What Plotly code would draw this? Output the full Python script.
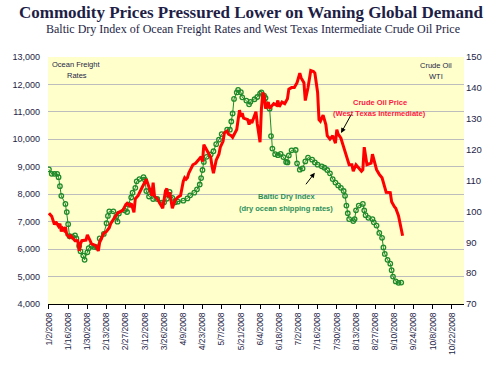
import plotly.graph_objects as go

# ---------------- data ----------------
bdi_dates = [
    "2008-01-02", "2008-01-04", "2008-01-06", "2008-01-08", "2008-01-09", "2008-01-10", "2008-01-11",
    "2008-01-14", "2008-01-15", "2008-01-16", "2008-01-17", "2008-01-19", "2008-01-21", "2008-01-22",
    "2008-01-24", "2008-01-25", "2008-01-27", "2008-01-28", "2008-01-30", "2008-01-31", "2008-02-02",
    "2008-02-04", "2008-02-06", "2008-02-08", "2008-02-11", "2008-02-13", "2008-02-14", "2008-02-15",
    "2008-02-18", "2008-02-20", "2008-02-21", "2008-02-22", "2008-02-26", "2008-02-28", "2008-02-29",
    "2008-03-02", "2008-03-03", "2008-03-05", "2008-03-06", "2008-03-08", "2008-03-11", "2008-03-12",
    "2008-03-13", "2008-03-15", "2008-03-18", "2008-03-21", "2008-03-24", "2008-03-26", "2008-03-28",
    "2008-03-30", "2008-04-01", "2008-04-03", "2008-04-05", "2008-04-09", "2008-04-12", "2008-04-14",
    "2008-04-17", "2008-04-19", "2008-04-21", "2008-04-22", "2008-04-23", "2008-04-24", "2008-04-26",
    "2008-04-29", "2008-05-01", "2008-05-03", "2008-05-05", "2008-05-07", "2008-05-11", "2008-05-13",
    "2008-05-14", "2008-05-15", "2008-05-16", "2008-05-18", "2008-05-19", "2008-05-21", "2008-05-22",
    "2008-05-25", "2008-05-27", "2008-05-28", "2008-05-31", "2008-06-02", "2008-06-04", "2008-06-05",
    "2008-06-07", "2008-06-08", "2008-06-11", "2008-06-12", "2008-06-13", "2008-06-15", "2008-06-17",
    "2008-06-19", "2008-06-21", "2008-06-23", "2008-06-24", "2008-06-25", "2008-06-27", "2008-06-30",
    "2008-07-01", "2008-07-03", "2008-07-05", "2008-07-07", "2008-07-09", "2008-07-12", "2008-07-14",
    "2008-07-16", "2008-07-19", "2008-07-21", "2008-07-23", "2008-07-25", "2008-07-27", "2008-07-29",
    "2008-07-31", "2008-08-02", "2008-08-04", "2008-08-05", "2008-08-06", "2008-08-07", "2008-08-08",
    "2008-08-11", "2008-08-12", "2008-08-13", "2008-08-15", "2008-08-18", "2008-08-19", "2008-08-20",
    "2008-08-22", "2008-08-25", "2008-08-26", "2008-08-28", "2008-08-30", "2008-09-01", "2008-09-02",
    "2008-09-03", "2008-09-05", "2008-09-07", "2008-09-08", "2008-09-09", "2008-09-11", "2008-09-13",
    "2008-09-15",
]
bdi_values = [
    8905, 8742, 8742, 8742, 8622, 8294, 7941,
    7648, 7351, 6907, 6469, 6458, 6504, 6388,
    6116, 5918, 5763, 5611, 5883, 6035, 6116,
    6081, 6060, 6388, 6554, 6942, 7210, 7376,
    7376, 7175, 6999, 7295, 7412, 7352, 7623,
    7881, 8058, 8234, 8470, 8553, 8622, 8531,
    8118, 7917, 7825, 7825, 7694, 7705, 7835,
    8082, 7870, 7705, 7729, 7765, 7846, 7958,
    8058, 8178, 8354, 8587, 8883, 9177, 9363,
    9448, 9565, 9823, 9989, 10190, 10352, 10352,
    10649, 10942, 11471, 11708, 11799, 11718, 11531,
    11411, 11277, 11365, 11460, 11542, 11665, 11708,
    11588, 11506, 11118, 10119, 9664, 9459, 9424,
    9470, 9353, 9177, 9159, 9413, 9600, 9611,
    9124, 8894, 8940, 9194, 9335, 9258, 9159,
    9078, 9018, 8965, 8883, 8763, 8552, 8425,
    8319, 8234, 8118, 7941, 7588, 7306, 7094,
    7023, 7094, 7412, 7588, 7648, 7412, 7235,
    7140, 7094, 6977, 6857, 6589, 6413, 6060,
    5823, 5611, 5470, 5233, 5000, 4824, 4770,
    4780,
]

oil_dates = [
    "2008-01-02", "2008-01-04", "2008-01-06", "2008-01-07", "2008-01-09", "2008-01-10", "2008-01-11",
    "2008-01-12", "2008-01-13", "2008-01-14", "2008-01-15", "2008-01-17", "2008-01-18", "2008-01-20",
    "2008-01-21", "2008-01-23", "2008-01-24", "2008-01-25", "2008-01-26", "2008-01-29", "2008-01-30",
    "2008-02-01", "2008-02-02", "2008-02-05", "2008-02-07", "2008-02-08", "2008-02-10", "2008-02-11",
    "2008-02-13", "2008-02-15", "2008-02-16", "2008-02-18", "2008-02-20", "2008-02-21", "2008-02-23",
    "2008-02-25", "2008-02-27", "2008-02-28", "2008-03-01", "2008-03-02", "2008-03-04", "2008-03-05",
    "2008-03-07", "2008-03-08", "2008-03-10", "2008-03-12", "2008-03-13", "2008-03-15", "2008-03-16",
    "2008-03-17", "2008-03-18", "2008-03-19", "2008-03-21", "2008-03-23", "2008-03-25", "2008-03-27",
    "2008-03-28", "2008-03-29", "2008-03-30", "2008-04-01", "2008-04-03", "2008-04-05", "2008-04-07",
    "2008-04-09", "2008-04-10", "2008-04-11", "2008-04-12", "2008-04-13", "2008-04-15", "2008-04-16",
    "2008-04-18", "2008-04-20", "2008-04-22", "2008-04-23", "2008-04-24", "2008-04-25", "2008-04-27",
    "2008-04-29", "2008-04-30", "2008-05-01", "2008-05-02", "2008-05-03", "2008-05-05", "2008-05-06",
    "2008-05-08", "2008-05-09", "2008-05-11", "2008-05-12", "2008-05-14", "2008-05-15", "2008-05-18",
    "2008-05-19", "2008-05-20", "2008-05-21", "2008-05-22", "2008-05-23", "2008-05-26", "2008-05-27",
    "2008-05-28", "2008-05-29", "2008-05-31", "2008-06-01", "2008-06-02", "2008-06-03", "2008-06-04",
    "2008-06-05", "2008-06-06", "2008-06-07", "2008-06-08", "2008-06-10", "2008-06-11", "2008-06-13",
    "2008-06-14", "2008-06-16", "2008-06-17", "2008-06-18", "2008-06-20", "2008-06-22", "2008-06-24",
    "2008-06-25", "2008-06-27", "2008-06-29", "2008-07-01", "2008-07-03", "2008-07-04", "2008-07-06",
    "2008-07-07", "2008-07-09", "2008-07-11", "2008-07-13", "2008-07-14", "2008-07-16", "2008-07-17",
    "2008-07-18", "2008-07-20", "2008-07-22", "2008-07-23", "2008-07-25", "2008-07-27", "2008-07-29",
    "2008-07-30", "2008-07-31", "2008-08-02", "2008-08-04", "2008-08-05", "2008-08-07", "2008-08-08",
    "2008-08-10", "2008-08-11", "2008-08-13", "2008-08-15", "2008-08-17", "2008-08-18", "2008-08-19",
    "2008-08-21", "2008-08-24", "2008-08-25", "2008-08-27", "2008-08-28", "2008-08-30", "2008-09-01",
    "2008-09-03", "2008-09-04", "2008-09-07", "2008-09-08", "2008-09-10", "2008-09-11", "2008-09-13",
    "2008-09-14", "2008-09-15", "2008-09-16",
]
oil_values = [
    99.4, 98.4, 95.7, 96.6, 95.2, 96.0, 93.5,
    94.5, 93.9, 94.9, 92.4, 91.6, 92.1, 91.0,
    90.5, 90.5, 87.2, 89.5, 90.5, 90.7, 92.4,
    90.5, 89.5, 89.0, 87.2, 90.0, 91.6, 92.9,
    93.5, 94.7, 96.0, 97.3, 98.9, 99.4, 99.9,
    100.4, 102.2, 102.6, 101.8, 102.6, 99.7, 104.1,
    105.1, 106.2, 107.8, 109.5, 110.4, 107.8, 106.2,
    105.1, 109.3, 104.9, 104.1, 102.5, 101.0, 106.7,
    107.4, 104.6, 106.2, 101.0, 103.6, 104.6, 105.1,
    109.8, 110.9, 110.4, 110.9, 112.4, 114.5, 115.1,
    115.6, 116.6, 117.7, 116.1, 121.6, 120.8, 118.9,
    117.5, 114.5, 112.4, 114.5, 116.6, 118.5, 120.8,
    122.7, 125.5, 126.0, 125.0, 124.5, 124.0, 126.5,
    129.0, 132.8, 130.7, 131.8, 130.2, 129.7, 128.1,
    129.7, 128.6, 131.2, 132.3, 128.3, 124.5, 122.4,
    133.3, 138.5, 137.5, 133.3, 135.4, 133.3, 134.4,
    134.9, 134.4, 135.9, 133.9, 135.4, 134.9, 136.5,
    139.6, 140.1, 140.1, 141.7, 144.8, 143.2, 141.7,
    135.9, 140.1, 145.6, 145.3, 144.8, 138.5, 129.7,
    129.2, 131.2, 128.1, 124.5, 123.4, 124.5, 122.1,
    126.5, 125.0, 123.7, 120.8, 119.2, 116.0, 115.1,
    115.1, 113.0, 115.1, 114.0, 113.0, 113.5, 120.8,
    115.1, 115.6, 118.5, 115.0, 113.5, 112.0, 110.9,
    107.8, 106.2, 106.1, 103.1, 101.5, 101.0, 98.6,
    96.3, 94.7, 92.1,
]

x_tick_dates = [
    "2008-01-02", "2008-01-16", "2008-01-30", "2008-02-13", "2008-02-27", "2008-03-12",
    "2008-03-26", "2008-04-09", "2008-04-23", "2008-05-07", "2008-05-21", "2008-06-04",
    "2008-06-18", "2008-07-02", "2008-07-16", "2008-07-30", "2008-08-13", "2008-08-27",
    "2008-09-10", "2008-09-24", "2008-10-08", "2008-10-22",
]
x_tick_labels = [
    "1/2/2008", "1/16/2008", "1/30/2008", "2/13/2008", "2/27/2008", "3/12/2008",
    "3/26/2008", "4/9/2008", "4/23/2008", "5/7/2008", "5/21/2008", "6/4/2008",
    "6/18/2008", "7/2/2008", "7/16/2008", "7/30/2008", "8/13/2008", "8/27/2008",
    "9/10/2008", "9/24/2008", "10/8/2008", "10/22/2008",
]

# ---------------- layout helpers ----------------
W, H = 494, 367
L, R, T, B = 38, 466, 57, 312
BG = "#FFFFCC"
NAVY = "#1E1E46"
SANS = "Liberation Sans"
SERIF = "Liberation Serif"


def px(x):
    return (x - L) / (R - L)


def py(y):
    return (B - y) / (B - T)


fig = go.Figure()

fig.add_trace(go.Scatter(
    x=bdi_dates, y=bdi_values, mode="lines+markers", yaxis="y",
    line=dict(color="#1F8A2A", width=1),
    marker=dict(symbol="circle-open", size=4.5, color="#1F8A2A", line=dict(width=1.3, color="#1F8A2A")),
    showlegend=False, name="Baltic Dry Index",
))
fig.add_trace(go.Scatter(
    x=oil_dates, y=oil_values, mode="lines", yaxis="y2",
    line=dict(color="#FF0000", width=3),
    showlegend=False, name="WTI",
))

annotations = [
    dict(text="<b>Commodity Prices Pressured Lower on Waning Global Demand</b>",
         x=px(247), y=py(11), font=dict(family=SERIF, size=17, color=NAVY)),
    dict(text="Baltic Dry Index of Ocean Freight Rates and West Texas Intermediate Crude Oil Price",
         x=px(249), y=py(28), font=dict(family=SERIF, size=12, color=NAVY)),
    dict(text="Ocean Freight", x=px(67), y=py(64.5), font=dict(family=SANS, size=7.5, color=NAVY)),
    dict(text="Rates", x=px(67.5), y=py(76), font=dict(family=SANS, size=7.5, color=NAVY)),
    dict(text="Crude Oil", x=px(437), y=py(66), font=dict(family=SANS, size=7.5, color=NAVY)),
    dict(text="WTI", x=px(437), y=py(77), font=dict(family=SANS, size=7.5, color=NAVY)),
    dict(text="<b>Crude Oil Price</b>", x=px(380), y=py(103.5), font=dict(family=SANS, size=7.5, color="#FF1744")),
    dict(text="<b>(West Texas Intermediate)</b>", x=px(379), y=py(115), font=dict(family=SANS, size=7.5, color="#FF1744")),
    dict(text="<b>Baltic Dry Index</b>", x=px(284), y=py(201.5), font=dict(family=SANS, size=7.5, color="#2A8F5A")),
    dict(text="<b>(dry ocean shipping rates)</b>", x=px(283), y=py(213), font=dict(family=SANS, size=7.5, color="#2A8F5A")),
]
for a in annotations:
    a.update(xref="paper", yref="paper", showarrow=False, xanchor="center", yanchor="middle")

# arrows
annotations.append(dict(x=px(339.5), y=py(135.5), xref="paper", yref="paper", text="",
                        showarrow=True, ax=11, ay=-20, arrowhead=2, arrowsize=1, arrowwidth=1,
                        arrowcolor="black"))
annotations.append(dict(x=px(312.5), y=py(176.5), xref="paper", yref="paper", text="",
                        showarrow=True, ax=-10, ay=13, arrowhead=2, arrowsize=1, arrowwidth=1,
                        arrowcolor="black"))

shapes = [
    dict(type="rect", xref="paper", yref="paper", layer="between",
         x0=px(233), x1=px(332), y0=py(222), y1=py(190), fillcolor=BG, line=dict(width=0)),
    dict(type="rect", xref="paper", yref="paper", layer="between",
         x0=px(330), x1=px(428), y0=py(121), y1=py(96), fillcolor=BG, line=dict(width=0)),
]

fig.update_layout(
    width=W, height=H,
    margin=dict(l=L, r=W - R, t=T, b=H - B, pad=0),
    paper_bgcolor="white", plot_bgcolor=BG,
    annotations=annotations, shapes=shapes,
    xaxis=dict(
        type="date", range=["2008-01-01 07:00", "2008-10-30 19:00"],
        tickmode="array", tickvals=x_tick_dates, ticktext=x_tick_labels,
        tickangle=-90, tickfont=dict(family=SANS, size=8.5, color=NAVY),
        showgrid=False, zeroline=False, showline=True, linecolor="black", linewidth=1.2,
        ticks="outside", ticklen=4, tickcolor="black", tickwidth=1,
    ),
    yaxis=dict(
        range=[4000, 13000], dtick=1000, tickformat=",d",
        tickfont=dict(family=SANS, size=9, color=NAVY),
        showgrid=True, gridcolor="#BDBDBD", gridwidth=1, zeroline=False, showline=False,
        ticks="", ticklabelstandoff=7,
    ),
    yaxis2=dict(
        range=[70, 150], dtick=10, overlaying="y", side="right",
        tickfont=dict(family=SANS, size=9.5, color=NAVY),
        showgrid=False, zeroline=False, showline=False, ticks="", ticklabelstandoff=1,
    ),
)

fig.write_html("out.html", config={"displayModeBar": False},
               post_script="document.body.style.margin='0';")
